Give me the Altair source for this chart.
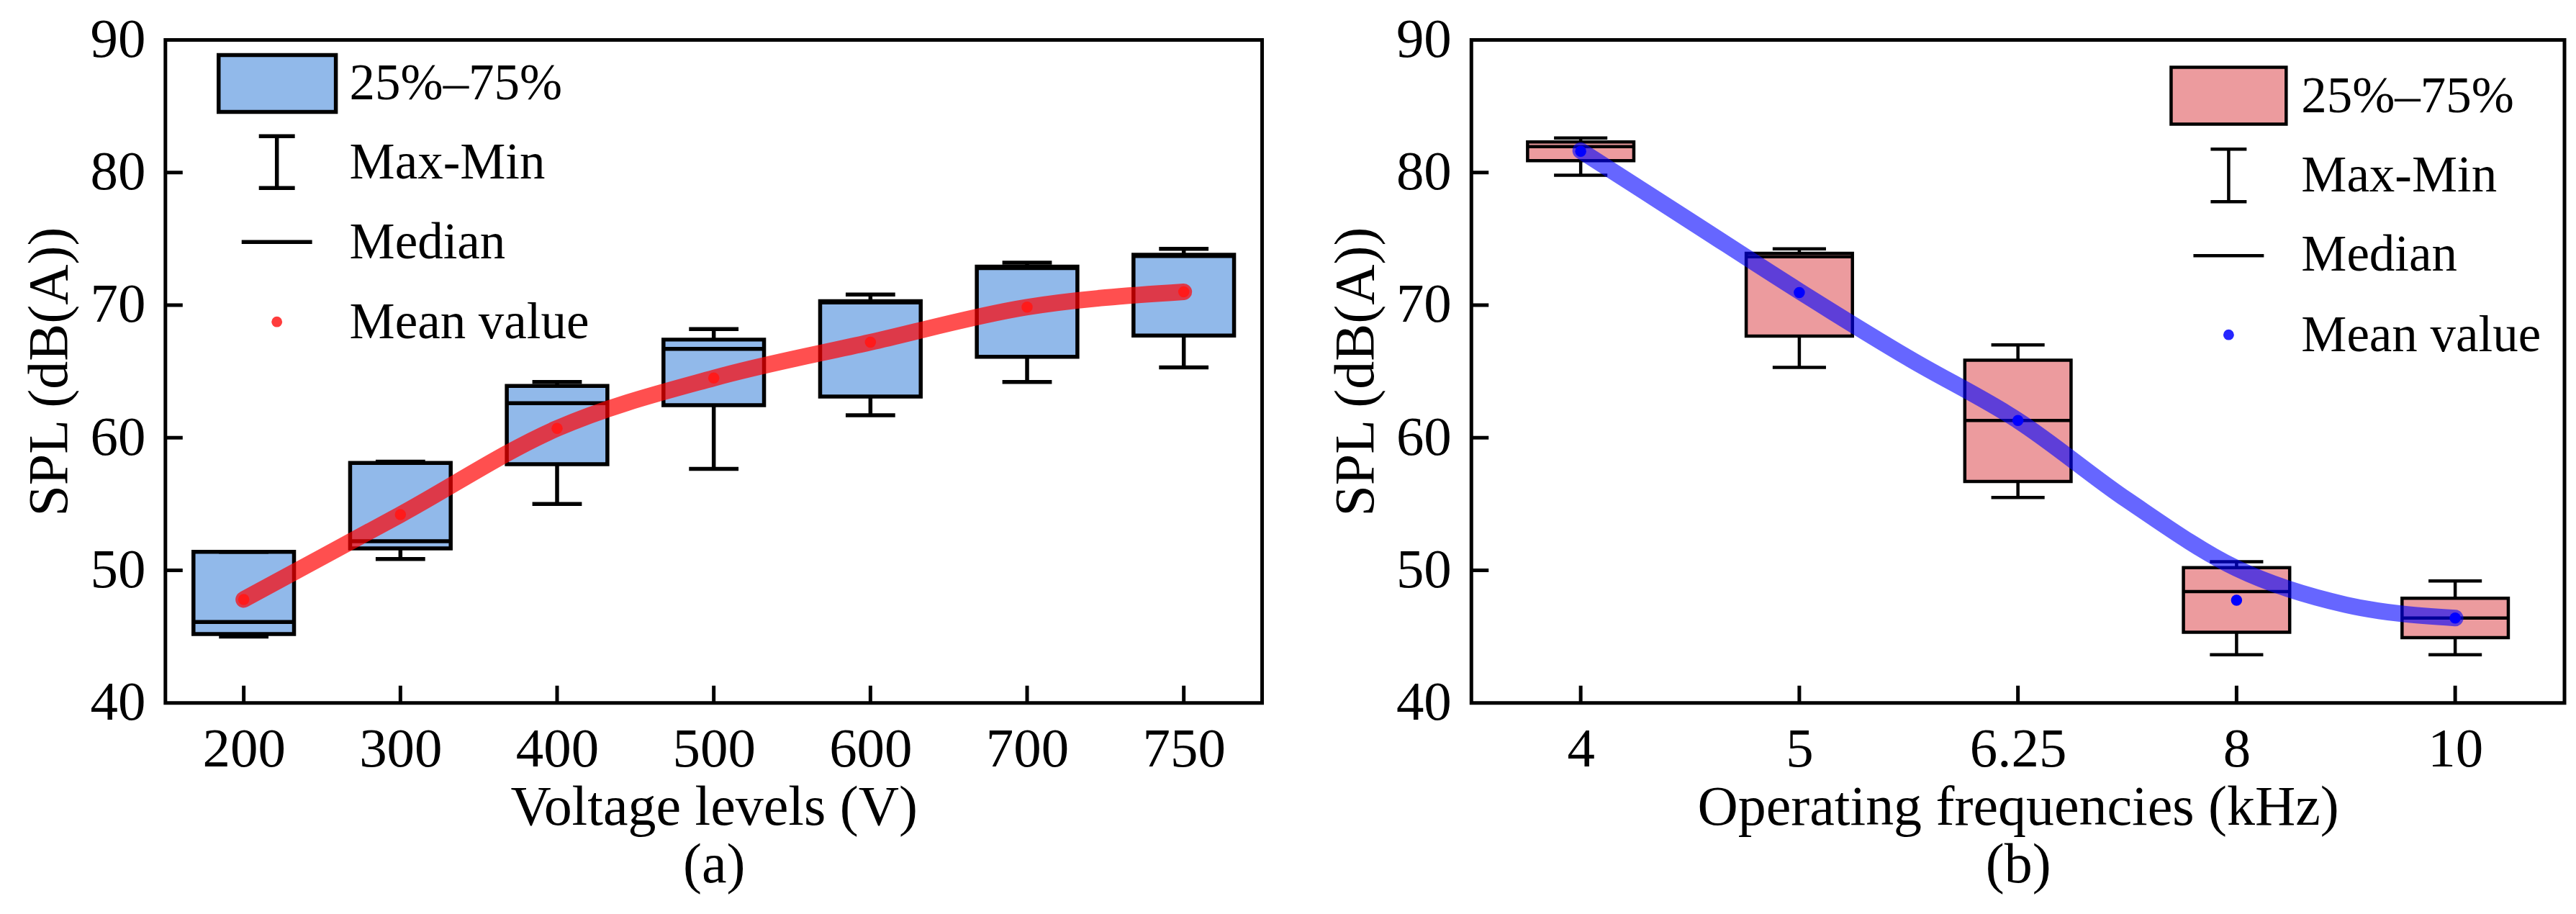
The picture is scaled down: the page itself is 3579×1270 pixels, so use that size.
import json
import altair as alt
import pandas as pd

# ---------------- data: panel (a) ----------------
labels_a = ["200", "300", "400", "500", "600", "700", "750"]
max_a = [51.4, 58.2, 64.2, 68.2, 70.8, 73.2, 74.25]
q3_a = [51.4, 58.1, 63.9, 67.4, 70.3, 72.9, 73.8]
med_a = [46.1, 52.2, 62.6, 66.7, 70.2, 72.8, 73.7]
q1_a = [45.2, 51.65, 58.0, 62.45, 63.1, 66.1, 67.7]
min_a = [45.0, 50.85, 55.0, 57.65, 61.7, 64.2, 65.3]
mean_a = [47.8, 54.2, 60.7, 64.5, 67.2, 69.85, 71.0]
curve_a_x = [0, 1, 2, 3, 4, 5, 6]
curve_a_y = [47.8, 54.2, 60.7, 64.5, 67.2, 69.85, 71.0]

# ---------------- data: panel (b) ----------------
labels_b = ["4", "5", "6.25", "8", "10"]
max_b = [82.6, 74.25, 67.0, 50.65, 49.2]
q3_b = [82.3, 73.9, 65.85, 50.2, 47.9]
med_b = [81.95, 73.65, 61.3, 48.4, 46.4]
q1_b = [80.9, 67.66, 56.7, 45.33, 44.92]
min_b = [79.8, 65.3, 55.5, 43.63, 43.63]
mean_b = [81.6, 70.95, 61.3, 47.75, 46.4]
curve_b_x = [0, 0.5, 1, 1.5, 2, 2.5, 3, 3.5, 4]
curve_b_y = [81.65, 76.35, 71.05, 66.0, 61.3, 55.3, 50.15, 47.4, 46.4]

y_axis_values = [40, 50, 60, 70, 80, 90]
y_inner_ticks = [50, 60, 70, 80]
legend_labels = ["25%\u201375%", "Max-Min", "Median", "Mean value"]

FONT = "Liberation Serif"
H = 922


def panel(labels, mx, q3, med, q1, mn, mean, cx, cy, width, box_fill,
          line_color, line_width, line_opacity, dot_color, hw, cw,
          xtitle, sub, leg, sw):
    n = len(labels)
    df = pd.DataFrame({"i": list(range(n)), "mx": mx, "q3": q3, "med": med,
                       "q1": q1, "mn": mn, "mean": mean})
    cdf = pd.DataFrame({"cx": cx, "cy": cy})
    xs = alt.Scale(domain=[-0.5, n - 0.5], nice=False, zero=False)
    ys = alt.Scale(domain=[40, 90], nice=False, zero=False)
    xaxis = alt.Axis(values=list(range(n)),
                     labelExpr=json.dumps(labels) + "[datum.value]",
                     title=[xtitle, sub], titleLineHeight=80,
                     labelPadding=27, titlePadding=4)
    yaxis = alt.Axis(values=y_axis_values, title="SPL (dB(A))",
                     labelPadding=28, titlePadding=16)

    def X(f):
        return alt.X(f, type="quantitative", scale=xs, axis=xaxis)

    def Y(f):
        return alt.Y(f, type="quantitative", scale=ys, axis=yaxis)

    base = alt.Chart(df).transform_calculate(
        xl=f"datum.i - {hw}", xr=f"datum.i + {hw}",
        cl=f"datum.i - {cw}", cr=f"datum.i + {cw}")

    boxes = base.mark_rect(fill=box_fill, stroke="black", strokeWidth=sw).encode(
        x=X("xl"), x2="xr", y=Y("q1"), y2="q3")
    wh_up = base.mark_rule(color="black", strokeWidth=sw).encode(
        x=X("i"), y=Y("q3"), y2="mx")
    wh_dn = base.mark_rule(color="black", strokeWidth=sw).encode(
        x=X("i"), y=Y("q1"), y2="mn")
    cap_up = base.mark_rule(color="black", strokeWidth=sw).encode(
        x=X("cl"), x2="cr", y=Y("mx"))
    cap_dn = base.mark_rule(color="black", strokeWidth=sw).encode(
        x=X("cl"), x2="cr", y=Y("mn"))
    medians = base.mark_rule(color="black", strokeWidth=sw).encode(
        x=X("xl"), x2="xr", y=Y("med"))
    curve = alt.Chart(cdf).mark_line(
        interpolate="monotone", color=line_color, strokeWidth=line_width,
        opacity=line_opacity, strokeCap="round").encode(x=X("cx"), y=Y("cy"))
    dots = base.mark_circle(size=240, color=dot_color, opacity=1).encode(
        x=X("i"), y=Y("mean"))

    xt = alt.Chart(df).mark_rule(color="black", strokeWidth=5).encode(
        x=X("i"), y=alt.value(H - 24), y2=alt.value(H))
    yt = alt.Chart(pd.DataFrame({"t": y_inner_ticks})).mark_rule(
        color="black", strokeWidth=5).encode(
        y=Y("t"), x=alt.value(0), x2=alt.value(24))

    one = pd.DataFrame({"k": [0]})
    lx0, lx1, ly0, ly1, tx, bls, ex, ey0, ey1, ecw, mx0, mx1, my, dx, dy = leg
    l_sw = alt.Chart(one).mark_rect(fill=box_fill, stroke="black", strokeWidth=sw).encode(
        x=alt.value(lx0), x2=alt.value(lx1), y=alt.value(ly0), y2=alt.value(ly1))
    l_ev = alt.Chart(one).mark_rule(color="black", strokeWidth=sw).encode(
        x=alt.value(ex), y=alt.value(ey0), y2=alt.value(ey1))
    l_e1 = alt.Chart(one).mark_rule(color="black", strokeWidth=sw).encode(
        x=alt.value(ex - ecw), x2=alt.value(ex + ecw), y=alt.value(ey0))
    l_e2 = alt.Chart(one).mark_rule(color="black", strokeWidth=sw).encode(
        x=alt.value(ex - ecw), x2=alt.value(ex + ecw), y=alt.value(ey1))
    l_md = alt.Chart(one).mark_rule(color="black", strokeWidth=sw).encode(
        x=alt.value(mx0), x2=alt.value(mx1), y=alt.value(my))
    l_dt = alt.Chart(one).mark_circle(size=220, color=dot_color, opacity=0.85).encode(
        x=alt.value(dx), y=alt.value(dy))
    texts = [alt.Chart(one).mark_text(
        align="left", baseline="alphabetic", font=FONT, fontSize=71,
        color="black").encode(x=alt.value(tx), y=alt.value(b), text=alt.value(t))
        for t, b in zip(legend_labels, bls)]

    return alt.layer(boxes, wh_up, wh_dn, cap_up, cap_dn, medians, curve, dots,
                     xt, yt, l_sw, l_ev, l_e1, l_e2, l_md, l_dt, *texts
                     ).properties(width=width, height=H)


leg_a = (74, 237, 21, 100, 256, [83, 193, 304, 415], 155, 134, 206, 25,
         106, 204, 281, 155, 392)
leg_b = (973, 1133, 38, 117, 1154, [101, 211, 321, 433], 1053, 152, 225, 25,
         1004, 1102, 300, 1053, 410)

pa = panel(labels_a, max_a, q3_a, med_a, q1_a, min_a, mean_a, curve_a_x, curve_a_y,
           1525, "#91B9EA", "#FF0000", 23, 0.69, "#FF1A1A", 0.321, 0.158,
           "Voltage levels (V)", "(a)", leg_a, 5.5)
pb = panel(labels_b, max_b, q3_b, med_b, q1_b, min_b, mean_b, curve_b_x, curve_b_y,
           1520, "#EC9B9E", "#0000FF", 23, 0.6, "#0000FF", 0.243, 0.122,
           "Operating frequencies (kHz)", "(b)", leg_b, 4.5)

chart = alt.hconcat(pa, pb, spacing=86).properties(
    padding={"left": 20, "top": 5, "right": 5, "bottom": 5},
    background="white",
).configure_view(stroke="black", strokeWidth=5).configure_axis(
    domain=False, grid=False, ticks=False, tickSize=0,
    labelFont=FONT, labelFontSize=77, labelColor="black",
    titleFont=FONT, titleFontSize=78, titleFontWeight="normal", titleColor="black",
)

chart.save("out.html", embed_options={"renderer": "svg", "actions": False})
